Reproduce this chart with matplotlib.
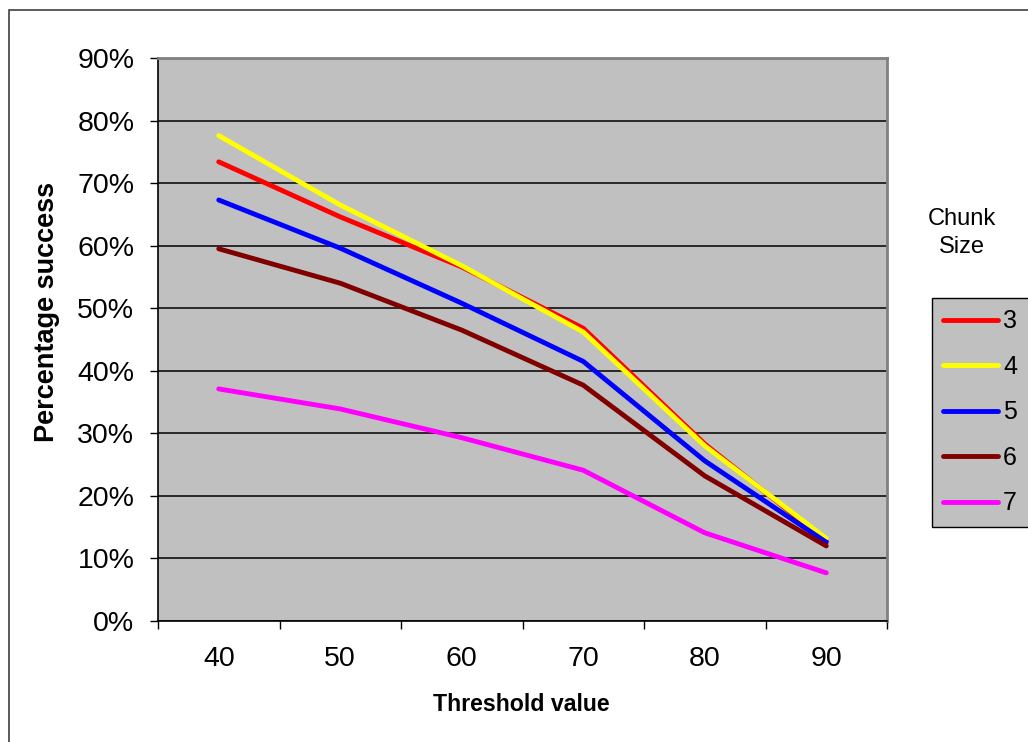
import matplotlib
matplotlib.use('Agg')
import matplotlib.pyplot as plt
from matplotlib.patches import Rectangle
from matplotlib.ticker import FixedLocator, PercentFormatter

plt.rcParams['font.family'] = ['Liberation Sans', 'DejaVu Sans']

# threshold values on the category axis
thresholds = ['40', '50', '60', '70', '80', '90']

# success rate (%) per chunk size
chunk_3 = [73.4, 64.6, 56.6, 46.8, 28.3, 12.8]
chunk_4 = [77.6, 66.5, 56.8, 46.2, 28.0, 13.2]
chunk_5 = [67.3, 59.6, 50.8, 41.5, 25.6, 12.6]
chunk_6 = [59.5, 54.0, 46.5, 37.7, 23.2, 12.0]
chunk_7 = [37.1, 33.9, 29.3, 24.1, 14.1, 7.7]

series = [('3', chunk_3, '#ff0000'),
          ('4', chunk_4, '#ffff00'),
          ('5', chunk_5, '#0000ff'),
          ('6', chunk_6, '#800000'),
          ('7', chunk_7, '#ff00ff')]

W, H = 1028, 742
fig = plt.figure(figsize=(W / 100, H / 100), dpi=100)
fig.patch.set_facecolor('white')

# outer chart border
fig.add_artist(Rectangle((9 / W, -0.05), 1.1, 1 - 10 / H + 0.05,
                         transform=fig.transFigure, fill=False,
                         edgecolor='#404040', lw=1.2))

ax = fig.add_axes([158 / W, 1 - 621 / H, (887 - 158) / W, (621 - 58) / H])
ax.set_facecolor('#c0c0c0')

x = list(range(len(thresholds)))
for name, vals, col in series:
    ax.plot(x, vals, color=col, lw=3.5, label=name,
            solid_capstyle='round', solid_joinstyle='round')

ax.set_xlim(-0.5, len(thresholds) - 0.5)
ax.set_ylim(0, 90)
ax.set_yticks(range(0, 91, 10))
ax.yaxis.set_major_formatter(PercentFormatter(decimals=0))
ax.grid(axis='y', color='black', lw=1.1)
ax.set_axisbelow(True)

ax.set_xticks(x)
ax.set_xticklabels(thresholds)
ax.xaxis.set_minor_locator(FixedLocator([i - 0.5 for i in range(len(thresholds) + 1)]))
ax.tick_params(axis='x', which='major', length=0, pad=18, labelsize=20.5)
ax.tick_params(axis='x', which='minor', length=6, width=1, color='black', direction='out')
ax.tick_params(axis='y', length=6, width=1, pad=11, labelsize=20.5, direction='out')

for side in ['left', 'bottom']:
    ax.spines[side].set_color('black')
    ax.spines[side].set_linewidth(1.2)
for side in ['top', 'right']:
    ax.spines[side].set_color('#808080')
    ax.spines[side].set_linewidth(2)

ax.set_xlabel('Threshold value', fontsize=16.7, fontweight='bold')
ax.xaxis.set_label_coords((521 - 158) / (887 - 158), -(693 - 621) / (621 - 58))
ax.set_ylabel('Percentage success', fontsize=19.5, fontweight='bold', va='center')
ax.yaxis.set_label_coords(-(158 - 47) / (887 - 158), (621 - 312) / (621 - 58))

leg = ax.legend(loc='upper left', bbox_to_anchor=(932 / W, 1 - 298 / H),
                bbox_transform=fig.transFigure, borderaxespad=0,
                fontsize=18, handlelength=2.2, handletextpad=0.2,
                labelspacing=0.86, borderpad=0.45, fancybox=False,
                framealpha=1, facecolor='#c0c0c0', edgecolor='black')
leg.get_frame().set_linewidth(1)

fig.text(962 / W, 1 - 233 / H, 'Chunk\nSize', ha='center', va='center',
         fontsize=17, linespacing=1.35)

fig.savefig('out.png', dpi=100)
